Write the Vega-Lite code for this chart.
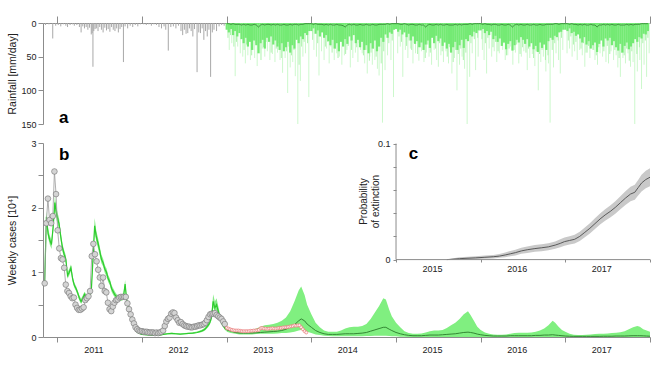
{
"$schema":"https://vega.github.io/schema/vega-lite/v6.json",
"padding":{"left":6,"top":15,"right":0,"bottom":4},
"background":"white",
"config":{"font":"Liberation Sans","view":{"stroke":null},"axis":{"domainColor":"#8c8c8c","tickColor":"#8c8c8c","labelColor":"#222222","titleColor":"#222222","labelFont":"Liberation Sans","titleFont":"Liberation Sans","labelFontSize":9,"titleFontSize":10.5,"titleFontWeight":"normal","grid":false,"labelFlush":false,"labelOverlap":false,"labelBound":false}},
"spacing":19,
"bounds":"flush",
"vconcat":[
{"width":607,"height":101,
"layer":[
{"data":{"name":"rainSpike"},"mark":{"type":"rule","strokeWidth":1,"color":"#ccf8cc"},
"encoding":{"x":{"field":"t","type":"quantitative","scale":{"domain":[2010.83,2018],"nice":false,"zero":false},"title":null,"axis":{"orient":"top","values":[2011,2012,2013,2014,2015,2016,2017,2018],"tickCount":50,"labels":false,"tickSize":7}},
"y":{"field":"mm","type":"quantitative","scale":{"domain":[0,150],"reverse":true,"nice":false},"title":"Rainfall [mm/day]","axis":{"values":[0,50,100,150],"tickCount":50,"format":"d","tickSize":5,"labelPadding":2,"titleX":-26,"titleY":50.5}},
"y2":{"datum":0}}},
{"data":{"name":"rainSpike2"},"mark":{"type":"rule","strokeWidth":1,"color":"#aef2ae"},
"encoding":{"x":{"field":"t","type":"quantitative","scale":{"domain":[2010.83,2018],"nice":false,"zero":false},"title":null},
"y":{"field":"mm","type":"quantitative","scale":{"domain":[0,150],"reverse":true,"nice":false},"title":"Rainfall [mm/day]"},"y2":{"datum":0}}},
{"data":{"name":"rainObs"},"mark":{"type":"rule","strokeWidth":1,"color":"#a8a8a8"},
"encoding":{"x":{"field":"t","type":"quantitative","scale":{"domain":[2010.83,2018],"nice":false,"zero":false},"title":null},
"y":{"field":"mm","type":"quantitative","scale":{"domain":[0,150],"reverse":true,"nice":false},"title":"Rainfall [mm/day]"},"y2":{"datum":0}}},
{"data":{"name":"rainCore"},"mark":{"type":"rule","strokeWidth":2.2,"color":"#74ea74"},
"encoding":{"x":{"field":"t","type":"quantitative","scale":{"domain":[2010.83,2018],"nice":false,"zero":false},"title":null},
"y":{"field":"c","type":"quantitative","scale":{"domain":[0,150],"reverse":true,"nice":false},"title":"Rainfall [mm/day]"},"y2":{"datum":0}}},
{"data":{"name":"rainCore"},"mark":{"type":"line","color":"#2f7f2f","strokeWidth":0.8},
"encoding":{"x":{"field":"t","type":"quantitative","scale":{"domain":[2010.83,2018],"nice":false,"zero":false},"title":null},
"y":{"field":"m","type":"quantitative","scale":{"domain":[0,150],"reverse":true,"nice":false},"title":"Rainfall [mm/day]"}}},
{"data":{"values":[{"t":2011.02,"v":148,"s":"a"}]},"mark":{"type":"text","align":"left","baseline":"alphabetic","fontSize":17,"fontWeight":"bold","color":"#000000"},
"encoding":{"x":{"field":"t","type":"quantitative","scale":{"domain":[2010.83,2018],"nice":false,"zero":false},"title":null},
"y":{"field":"v","type":"quantitative","scale":{"domain":[0,150],"reverse":true,"nice":false},"title":"Rainfall [mm/day]"},"text":{"field":"s"}}}
]},
{"width":607,"height":194,
"layer":[
{"layer":[
{"data":{"name":"fit"},"mark":{"type":"area","color":"#86ec86"},
"encoding":{"x":{"field":"t","type":"quantitative","scale":{"domain":[2010.83,2018],"nice":false,"zero":false},"title":null,"axis":{"values":[2011,2012,2013,2014,2015,2016,2017,2018],"tickCount":50,"labelExpr":"datum.value < 2018 ? format(datum.value, 'd') : ''","labelOffset":36,"tickSize":5,"labelPadding":3}},
"y":{"field":"lo","type":"quantitative","scale":{"domain":[0,3],"nice":false},"title":"Weekly cases [10⁴]","axis":{"values":[0,0.5,1,1.5,2,2.5,3],"tickCount":50,"labelExpr":"datum.value % 1 == 0 ? format(datum.value, 'd') : ''","tickSize":5,"labelPadding":2,"titleX":-26,"titleY":97}},
"y2":{"field":"hi"}}},
{"data":{"name":"fc"},"mark":{"type":"area","color":"#80ef80"},
"encoding":{"x":{"field":"t","type":"quantitative","scale":{"domain":[2010.83,2018],"nice":false,"zero":false},"title":null},
"y":{"field":"lo","type":"quantitative","scale":{"domain":[0,3],"nice":false},"title":"Weekly cases [10⁴]"},"y2":{"field":"hi"}}},
{"data":{"name":"fit"},"mark":{"type":"line","color":"#2ecc2e","strokeWidth":1.2},
"encoding":{"x":{"field":"t","type":"quantitative","scale":{"domain":[2010.83,2018],"nice":false,"zero":false},"title":null},
"y":{"field":"m","type":"quantitative","scale":{"domain":[0,3],"nice":false},"title":"Weekly cases [10⁴]"}}},
{"data":{"name":"fc"},"mark":{"type":"line","color":"#2a7a2a","strokeWidth":0.9},
"encoding":{"x":{"field":"t","type":"quantitative","scale":{"domain":[2010.83,2018],"nice":false,"zero":false},"title":null},
"y":{"field":"m","type":"quantitative","scale":{"domain":[0,3],"nice":false},"title":"Weekly cases [10⁴]"}}},
{"data":{"name":"obs"},"mark":{"type":"line","color":"#9a9a9a","strokeWidth":0.8},
"encoding":{"x":{"field":"t","type":"quantitative","scale":{"domain":[2010.83,2018],"nice":false,"zero":false},"title":null},
"y":{"field":"c","type":"quantitative","scale":{"domain":[0,3],"nice":false},"title":"Weekly cases [10⁴]"}}},
{"data":{"name":"obs"},"mark":{"type":"point","filled":true,"size":32,"fill":"#d4d4d4","stroke":"#707070","strokeWidth":0.6,"opacity":1},
"encoding":{"x":{"field":"t","type":"quantitative","scale":{"domain":[2010.83,2018],"nice":false,"zero":false},"title":null},
"y":{"field":"c","type":"quantitative","scale":{"domain":[0,3],"nice":false},"title":"Weekly cases [10⁴]"}}},
{"data":{"name":"val"},"mark":{"type":"line","color":"#f2a0a0","strokeWidth":0.8},
"encoding":{"x":{"field":"t","type":"quantitative","scale":{"domain":[2010.83,2018],"nice":false,"zero":false},"title":null},
"y":{"field":"c","type":"quantitative","scale":{"domain":[0,3],"nice":false},"title":"Weekly cases [10⁴]"}}},
{"data":{"name":"val"},"mark":{"type":"point","filled":true,"size":9,"fill":"#fff4f4","stroke":"#e87878","strokeWidth":0.7,"opacity":1},
"encoding":{"x":{"field":"t","type":"quantitative","scale":{"domain":[2010.83,2018],"nice":false,"zero":false},"title":null},
"y":{"field":"c","type":"quantitative","scale":{"domain":[0,3],"nice":false},"title":"Weekly cases [10⁴]"}}},
{"data":{"values":[{"t":2011.02,"v":2.74,"s":"b"}]},"mark":{"type":"text","align":"left","baseline":"alphabetic","fontSize":17,"fontWeight":"bold","color":"#000000"},
"encoding":{"x":{"field":"t","type":"quantitative","scale":{"domain":[2010.83,2018],"nice":false,"zero":false},"title":null},
"y":{"field":"v","type":"quantitative","scale":{"domain":[0,3],"nice":false},"title":"Weekly cases [10⁴]"},"text":{"field":"s"}}}
]},
{"layer":[
{"data":{"name":"ext"},"mark":{"type":"area","color":"#c9c9c9"},
"encoding":{"x":{"field":"t","type":"quantitative","scale":{"domain":[2010.83,2018],"nice":false,"zero":false},"title":null,"axis":{"orient":"bottom","offset":-78,"values":[2015,2016,2017,2018],"tickCount":50,"labelExpr":"datum.value < 2018 ? format(datum.value, 'd') : ''","labelOffset":36,"domain":false,"tickSize":3,"labelPadding":2}},
"y":{"field":"lo","type":"quantitative","scale":{"domain":[-0.0667,0.1005],"nice":false,"zero":false},"title":["Probability","of extinction"],"axis":{"orient":"left","offset":-353,"values":[0,0.02,0.04,0.06,0.08,0.1],"tickCount":50,"labelExpr":"datum.value < 0.001 ? '0' : (datum.value > 0.099 ? '0.1' : '')","domain":false,"tickSize":3,"labelPadding":3,"titleX":-28,"titleY":58,"titleFontSize":10}},
"y2":{"field":"hi"}}},
{"data":{"name":"ext"},"mark":{"type":"line","color":"#4d4d4d","strokeWidth":0.9},
"encoding":{"x":{"field":"t","type":"quantitative","scale":{"domain":[2010.83,2018],"nice":false,"zero":false},"title":null},
"y":{"field":"p","type":"quantitative","scale":{"domain":[-0.0667,0.1005],"nice":false,"zero":false},"title":["Probability","of extinction"]}}},
{"data":{"values":[{"t":2015,"t2":2015,"v":0,"v2":0.1},{"t":2015,"t2":2018,"v":0,"v2":0}]},"mark":{"type":"rule","color":"#8c8c8c","strokeWidth":1},
"encoding":{"x":{"field":"t","type":"quantitative","scale":{"domain":[2010.83,2018],"nice":false,"zero":false},"title":null},"x2":{"field":"t2"},
"y":{"field":"v","type":"quantitative","scale":{"domain":[-0.0667,0.1005],"nice":false,"zero":false},"title":["Probability","of extinction"]},"y2":{"field":"v2"}}},
{"data":{"values":[{"t":2015.15,"v":0.0863,"s":"c"}]},"mark":{"type":"text","align":"left","baseline":"alphabetic","fontSize":17,"fontWeight":"bold","color":"#000000"},
"encoding":{"x":{"field":"t","type":"quantitative","scale":{"domain":[2010.83,2018],"nice":false,"zero":false},"title":null},
"y":{"field":"v","type":"quantitative","scale":{"domain":[-0.0667,0.1005],"nice":false,"zero":false},"title":["Probability","of extinction"]},"text":{"field":"s"}}}
]}
],
"resolve":{"scale":{"y":"independent"},"axis":{"y":"independent","x":"independent"}}
}
],
"datasets":{
"rainObs":[{"t":2010.86,"mm":3},{"t":2010.9,"mm":2},{"t":2010.945,"mm":23},{"t":2010.98,"mm":4},{"t":2011.01,"mm":3},{"t":2011.04,"mm":5},{"t":2011.07,"mm":2},{"t":2011.1,"mm":4},{"t":2011.12,"mm":6},{"t":2011.15,"mm":3},{"t":2011.18,"mm":2},{"t":2011.2,"mm":4},{"t":2011.23,"mm":3},{"t":2011.26,"mm":6},{"t":2011.28,"mm":14},{"t":2011.3,"mm":5},{"t":2011.32,"mm":8},{"t":2011.34,"mm":6},{"t":2011.36,"mm":10},{"t":2011.38,"mm":7},{"t":2011.4,"mm":17},{"t":2011.41,"mm":15},{"t":2011.42,"mm":65},{"t":2011.43,"mm":12},{"t":2011.445,"mm":9},{"t":2011.46,"mm":8},{"t":2011.48,"mm":12},{"t":2011.5,"mm":6},{"t":2011.52,"mm":10},{"t":2011.54,"mm":14},{"t":2011.56,"mm":7},{"t":2011.58,"mm":11},{"t":2011.6,"mm":9},{"t":2011.62,"mm":13},{"t":2011.64,"mm":6},{"t":2011.66,"mm":10},{"t":2011.68,"mm":12},{"t":2011.7,"mm":8},{"t":2011.72,"mm":14},{"t":2011.74,"mm":9},{"t":2011.76,"mm":6},{"t":2011.78,"mm":58},{"t":2011.8,"mm":5},{"t":2011.83,"mm":8},{"t":2011.86,"mm":4},{"t":2011.89,"mm":6},{"t":2011.92,"mm":3},{"t":2011.95,"mm":5},{"t":2011.98,"mm":2},{"t":2012.02,"mm":2},{"t":2012.05,"mm":3},{"t":2012.08,"mm":2},{"t":2012.11,"mm":4},{"t":2012.14,"mm":2},{"t":2012.17,"mm":3},{"t":2012.2,"mm":6},{"t":2012.23,"mm":8},{"t":2012.26,"mm":5},{"t":2012.28,"mm":10},{"t":2012.31,"mm":41},{"t":2012.34,"mm":6},{"t":2012.37,"mm":5},{"t":2012.4,"mm":8},{"t":2012.43,"mm":4},{"t":2012.46,"mm":12},{"t":2012.48,"mm":18},{"t":2012.5,"mm":10},{"t":2012.52,"mm":16},{"t":2012.54,"mm":15},{"t":2012.56,"mm":8},{"t":2012.58,"mm":12},{"t":2012.6,"mm":20},{"t":2012.62,"mm":9},{"t":2012.65,"mm":73},{"t":2012.67,"mm":14},{"t":2012.69,"mm":15},{"t":2012.71,"mm":8},{"t":2012.73,"mm":25},{"t":2012.75,"mm":12},{"t":2012.77,"mm":20},{"t":2012.79,"mm":10},{"t":2012.81,"mm":80},{"t":2012.83,"mm":14},{"t":2012.85,"mm":10},{"t":2012.88,"mm":12},{"t":2012.91,"mm":5},{"t":2012.94,"mm":3},{"t":2012.97,"mm":4}],
"rainSpike":[{"t":2013.03,"mm":40},{"t":2013.06,"mm":30},{"t":2013.1,"mm":79},{"t":2013.13,"mm":35},{"t":2013.16,"mm":45},{"t":2013.19,"mm":50},{"t":2013.22,"mm":60},{"t":2013.25,"mm":48},{"t":2013.28,"mm":55},{"t":2013.31,"mm":40},{"t":2013.33,"mm":52},{"t":2013.36,"mm":64},{"t":2013.39,"mm":45},{"t":2013.42,"mm":38},{"t":2013.45,"mm":50},{"t":2013.48,"mm":42},{"t":2013.51,"mm":55},{"t":2013.54,"mm":46},{"t":2013.57,"mm":58},{"t":2013.6,"mm":44},{"t":2013.63,"mm":55},{"t":2013.66,"mm":74},{"t":2013.69,"mm":52},{"t":2013.72,"mm":104},{"t":2013.75,"mm":66},{"t":2013.78,"mm":58},{"t":2013.81,"mm":79},{"t":2013.84,"mm":150},{"t":2013.87,"mm":86},{"t":2013.9,"mm":50},{"t":2013.93,"mm":45},{"t":2013.97,"mm":110},
{"t":2014.03,"mm":40},{"t":2014.06,"mm":50},{"t":2014.09,"mm":78},{"t":2014.12,"mm":42},{"t":2014.15,"mm":55},{"t":2014.18,"mm":38},{"t":2014.21,"mm":60},{"t":2014.23,"mm":35},{"t":2014.27,"mm":55},{"t":2014.3,"mm":45},{"t":2014.33,"mm":50},{"t":2014.36,"mm":62},{"t":2014.39,"mm":48},{"t":2014.42,"mm":40},{"t":2014.46,"mm":66},{"t":2014.49,"mm":52},{"t":2014.52,"mm":44},{"t":2014.55,"mm":58},{"t":2014.58,"mm":40},{"t":2014.6,"mm":45},{"t":2014.63,"mm":60},{"t":2014.66,"mm":75},{"t":2014.69,"mm":50},{"t":2014.72,"mm":62},{"t":2014.75,"mm":55},{"t":2014.78,"mm":68},{"t":2014.8,"mm":78},{"t":2014.84,"mm":148},{"t":2014.87,"mm":70},{"t":2014.9,"mm":48},{"t":2014.94,"mm":55},{"t":2014.97,"mm":110},
{"t":2015.02,"mm":45},{"t":2015.05,"mm":35},{"t":2015.08,"mm":80},{"t":2015.11,"mm":40},{"t":2015.14,"mm":52},{"t":2015.17,"mm":38},{"t":2015.2,"mm":60},{"t":2015.23,"mm":45},{"t":2015.27,"mm":56},{"t":2015.3,"mm":42},{"t":2015.33,"mm":58},{"t":2015.36,"mm":44},{"t":2015.39,"mm":50},{"t":2015.42,"mm":62},{"t":2015.45,"mm":40},{"t":2015.48,"mm":55},{"t":2015.5,"mm":65},{"t":2015.53,"mm":48},{"t":2015.56,"mm":58},{"t":2015.59,"mm":42},{"t":2015.62,"mm":60},{"t":2015.66,"mm":75},{"t":2015.69,"mm":52},{"t":2015.72,"mm":100},{"t":2015.75,"mm":62},{"t":2015.78,"mm":50},{"t":2015.81,"mm":68},{"t":2015.84,"mm":150},{"t":2015.87,"mm":80},{"t":2015.9,"mm":45},{"t":2015.94,"mm":70},{"t":2015.97,"mm":50},
{"t":2016.02,"mm":40},{"t":2016.04,"mm":55},{"t":2016.07,"mm":75},{"t":2016.1,"mm":38},{"t":2016.13,"mm":50},{"t":2016.16,"mm":42},{"t":2016.19,"mm":58},{"t":2016.22,"mm":45},{"t":2016.26,"mm":40},{"t":2016.29,"mm":55},{"t":2016.32,"mm":48},{"t":2016.35,"mm":35},{"t":2016.38,"mm":62},{"t":2016.41,"mm":44},{"t":2016.45,"mm":60},{"t":2016.48,"mm":50},{"t":2016.51,"mm":42},{"t":2016.55,"mm":70},{"t":2016.58,"mm":52},{"t":2016.61,"mm":46},{"t":2016.64,"mm":64},{"t":2016.68,"mm":100},{"t":2016.71,"mm":58},{"t":2016.74,"mm":50},{"t":2016.77,"mm":72},{"t":2016.8,"mm":60},{"t":2016.82,"mm":148},{"t":2016.86,"mm":66},{"t":2016.89,"mm":45},{"t":2016.92,"mm":55},{"t":2016.94,"mm":75},{"t":2016.97,"mm":40},
{"t":2017.02,"mm":45},{"t":2017.05,"mm":38},{"t":2017.08,"mm":50},{"t":2017.11,"mm":42},{"t":2017.14,"mm":55},{"t":2017.17,"mm":40},{"t":2017.2,"mm":48},{"t":2017.23,"mm":65},{"t":2017.26,"mm":44},{"t":2017.29,"mm":52},{"t":2017.32,"mm":40},{"t":2017.35,"mm":55},{"t":2017.38,"mm":62},{"t":2017.41,"mm":45},{"t":2017.44,"mm":50},{"t":2017.48,"mm":58},{"t":2017.51,"mm":60},{"t":2017.54,"mm":42},{"t":2017.57,"mm":55},{"t":2017.6,"mm":48},{"t":2017.62,"mm":66},{"t":2017.65,"mm":80},{"t":2017.68,"mm":52},{"t":2017.71,"mm":60},{"t":2017.74,"mm":45},{"t":2017.77,"mm":65},{"t":2017.8,"mm":58},{"t":2017.82,"mm":150},{"t":2017.85,"mm":72},{"t":2017.88,"mm":55},{"t":2017.9,"mm":98},{"t":2017.93,"mm":62},{"t":2017.96,"mm":80},{"t":2017.99,"mm":45}],
"rainSpike2":[{"t":2013.015,"mm":22},{"t":2013.045,"mm":18},{"t":2013.085,"mm":35},{"t":2013.115,"mm":28},{"t":2013.205,"mm":40},{"t":2013.235,"mm":32},{"t":2013.295,"mm":48},{"t":2013.345,"mm":30},{"t":2013.405,"mm":55},{"t":2013.435,"mm":36},{"t":2013.465,"mm":28},{"t":2013.525,"mm":44},{"t":2013.585,"mm":38},{"t":2013.615,"mm":30},{"t":2013.645,"mm":52},{"t":2013.705,"mm":42},{"t":2013.735,"mm":35},{"t":2013.765,"mm":48},{"t":2013.795,"mm":40},{"t":2013.855,"mm":62},{"t":2013.885,"mm":35},{"t":2013.915,"mm":28},{"t":2013.955,"mm":30},
{"t":2014.015,"mm":25},{"t":2014.075,"mm":30},{"t":2014.105,"mm":20},{"t":2014.165,"mm":35},{"t":2014.195,"mm":28},{"t":2014.245,"mm":44},{"t":2014.285,"mm":38},{"t":2014.315,"mm":52},{"t":2014.375,"mm":30},{"t":2014.405,"mm":46},{"t":2014.435,"mm":34},{"t":2014.475,"mm":40},{"t":2014.535,"mm":36},{"t":2014.565,"mm":30},{"t":2014.615,"mm":48},{"t":2014.645,"mm":40},{"t":2014.685,"mm":56},{"t":2014.705,"mm":44},{"t":2014.735,"mm":38},{"t":2014.765,"mm":50},{"t":2014.825,"mm":60},{"t":2014.855,"mm":42},{"t":2014.915,"mm":30},{"t":2014.955,"mm":26},
{"t":2015.035,"mm":20},{"t":2015.065,"mm":28},{"t":2015.125,"mm":34},{"t":2015.155,"mm":26},{"t":2015.185,"mm":40},{"t":2015.215,"mm":30},{"t":2015.255,"mm":46},{"t":2015.285,"mm":36},{"t":2015.345,"mm":52},{"t":2015.375,"mm":32},{"t":2015.405,"mm":44},{"t":2015.465,"mm":38},{"t":2015.515,"mm":30},{"t":2015.545,"mm":42},{"t":2015.605,"mm":50},{"t":2015.635,"mm":36},{"t":2015.675,"mm":58},{"t":2015.705,"mm":40},{"t":2015.735,"mm":46},{"t":2015.765,"mm":38},{"t":2015.795,"mm":55},{"t":2015.825,"mm":44},{"t":2015.885,"mm":30},{"t":2015.925,"mm":24},{"t":2015.965,"mm":22},
{"t":2016.015,"mm":24},{"t":2016.055,"mm":30},{"t":2016.085,"mm":22},{"t":2016.145,"mm":36},{"t":2016.175,"mm":28},{"t":2016.205,"mm":42},{"t":2016.245,"mm":34},{"t":2016.275,"mm":30},{"t":2016.305,"mm":48},{"t":2016.335,"mm":38},{"t":2016.395,"mm":40},{"t":2016.425,"mm":32},{"t":2016.465,"mm":46},{"t":2016.495,"mm":36},{"t":2016.535,"mm":44},{"t":2016.565,"mm":38},{"t":2016.625,"mm":52},{"t":2016.655,"mm":42},{"t":2016.695,"mm":46},{"t":2016.725,"mm":40},{"t":2016.765,"mm":55},{"t":2016.795,"mm":48},{"t":2016.845,"mm":40},{"t":2016.875,"mm":30},{"t":2016.915,"mm":26},{"t":2016.955,"mm":22},
{"t":2017.035,"mm":26},{"t":2017.065,"mm":20},{"t":2017.095,"mm":32},{"t":2017.125,"mm":28},{"t":2017.185,"mm":38},{"t":2017.215,"mm":30},{"t":2017.245,"mm":44},{"t":2017.275,"mm":34},{"t":2017.335,"mm":40},{"t":2017.365,"mm":48},{"t":2017.395,"mm":36},{"t":2017.455,"mm":42},{"t":2017.495,"mm":34},{"t":2017.525,"mm":46},{"t":2017.585,"mm":40},{"t":2017.635,"mm":52},{"t":2017.665,"mm":44},{"t":2017.695,"mm":48},{"t":2017.725,"mm":38},{"t":2017.755,"mm":56},{"t":2017.785,"mm":42},{"t":2017.845,"mm":46},{"t":2017.875,"mm":36},{"t":2017.915,"mm":30},{"t":2017.945,"mm":26},{"t":2017.975,"mm":22}],
"rainCore":[
{"t":2013,"c":10,"m":1},{"t":2013.025,"c":14,"m":1},{"t":2013.05,"c":9,"m":2},{"t":2013.075,"c":18,"m":1},{"t":2013.1,"c":12,"m":2},{"t":2013.125,"c":20,"m":2},{"t":2013.15,"c":15,"m":2},{"t":2013.175,"c":24,"m":3},{"t":2013.2,"c":30,"m":2},{"t":2013.225,"c":22,"m":3},{"t":2013.25,"c":35,"m":2},{"t":2013.275,"c":28,"m":3},{"t":2013.3,"c":40,"m":3},{"t":2013.325,"c":26,"m":2},{"t":2013.35,"c":33,"m":3},{"t":2013.375,"c":45,"m":6},{"t":2013.4,"c":30,"m":3},{"t":2013.425,"c":25,"m":2},{"t":2013.45,"c":38,"m":3},{"t":2013.475,"c":22,"m":2},{"t":2013.5,"c":28,"m":2},{"t":2013.525,"c":20,"m":3},{"t":2013.55,"c":32,"m":2},{"t":2013.575,"c":26,"m":3},{"t":2013.6,"c":35,"m":2},{"t":2013.625,"c":40,"m":3},{"t":2013.65,"c":30,"m":3},{"t":2013.675,"c":42,"m":2},{"t":2013.7,"c":36,"m":3},{"t":2013.725,"c":28,"m":3},{"t":2013.75,"c":44,"m":2},{"t":2013.775,"c":33,"m":3},{"t":2013.8,"c":38,"m":2},{"t":2013.825,"c":25,"m":2},{"t":2013.85,"c":30,"m":3},{"t":2013.875,"c":20,"m":2},{"t":2013.9,"c":24,"m":2},{"t":2013.925,"c":15,"m":1},{"t":2013.95,"c":18,"m":1},{"t":2013.975,"c":12,"m":1},
{"t":2014,"c":12,"m":1},{"t":2014.025,"c":8,"m":2},{"t":2014.05,"c":16,"m":1},{"t":2014.075,"c":11,"m":2},{"t":2014.1,"c":20,"m":2},{"t":2014.125,"c":14,"m":2},{"t":2014.15,"c":22,"m":3},{"t":2014.175,"c":18,"m":2},{"t":2014.2,"c":27,"m":3},{"t":2014.225,"c":33,"m":2},{"t":2014.25,"c":25,"m":3},{"t":2014.275,"c":38,"m":3},{"t":2014.3,"c":30,"m":2},{"t":2014.325,"c":42,"m":3},{"t":2014.35,"c":28,"m":3},{"t":2014.375,"c":35,"m":4},{"t":2014.4,"c":24,"m":6},{"t":2014.425,"c":31,"m":3},{"t":2014.45,"c":20,"m":2},{"t":2014.475,"c":26,"m":3},{"t":2014.5,"c":18,"m":2},{"t":2014.525,"c":30,"m":3},{"t":2014.55,"c":25,"m":3},{"t":2014.575,"c":36,"m":2},{"t":2014.6,"c":28,"m":3},{"t":2014.625,"c":40,"m":3},{"t":2014.65,"c":33,"m":2},{"t":2014.675,"c":45,"m":3},{"t":2014.7,"c":30,"m":3},{"t":2014.725,"c":38,"m":2},{"t":2014.75,"c":26,"m":3},{"t":2014.775,"c":42,"m":3},{"t":2014.8,"c":35,"m":2},{"t":2014.825,"c":22,"m":2},{"t":2014.85,"c":28,"m":2},{"t":2014.875,"c":17,"m":2},{"t":2014.9,"c":22,"m":1},{"t":2014.925,"c":14,"m":2},{"t":2014.95,"c":16,"m":1},{"t":2014.975,"c":10,"m":1},
{"t":2015,"c":9,"m":1},{"t":2015.025,"c":13,"m":1},{"t":2015.05,"c":10,"m":2},{"t":2015.075,"c":17,"m":2},{"t":2015.1,"c":14,"m":1},{"t":2015.125,"c":21,"m":2},{"t":2015.15,"c":16,"m":3},{"t":2015.175,"c":26,"m":2},{"t":2015.2,"c":20,"m":2},{"t":2015.225,"c":31,"m":3},{"t":2015.25,"c":27,"m":3},{"t":2015.275,"c":36,"m":2},{"t":2015.3,"c":29,"m":3},{"t":2015.325,"c":40,"m":3},{"t":2015.35,"c":32,"m":6},{"t":2015.375,"c":26,"m":3},{"t":2015.4,"c":37,"m":2},{"t":2015.425,"c":22,"m":3},{"t":2015.45,"c":30,"m":3},{"t":2015.475,"c":19,"m":2},{"t":2015.5,"c":27,"m":3},{"t":2015.525,"c":23,"m":2},{"t":2015.55,"c":34,"m":3},{"t":2015.575,"c":29,"m":3},{"t":2015.6,"c":38,"m":2},{"t":2015.625,"c":31,"m":3},{"t":2015.65,"c":44,"m":3},{"t":2015.675,"c":36,"m":3},{"t":2015.7,"c":28,"m":2},{"t":2015.725,"c":40,"m":3},{"t":2015.75,"c":33,"m":2},{"t":2015.775,"c":25,"m":3},{"t":2015.8,"c":37,"m":2},{"t":2015.825,"c":24,"m":2},{"t":2015.85,"c":27,"m":2},{"t":2015.875,"c":18,"m":1},{"t":2015.9,"c":20,"m":2},{"t":2015.925,"c":13,"m":1},{"t":2015.95,"c":15,"m":1},{"t":2015.975,"c":11,"m":1},
{"t":2016,"c":11,"m":1},{"t":2016.025,"c":9,"m":2},{"t":2016.05,"c":15,"m":1},{"t":2016.075,"c":12,"m":2},{"t":2016.1,"c":18,"m":2},{"t":2016.125,"c":13,"m":3},{"t":2016.15,"c":24,"m":2},{"t":2016.175,"c":19,"m":2},{"t":2016.2,"c":28,"m":3},{"t":2016.225,"c":23,"m":3},{"t":2016.25,"c":34,"m":2},{"t":2016.275,"c":29,"m":3},{"t":2016.3,"c":39,"m":3},{"t":2016.325,"c":31,"m":2},{"t":2016.35,"c":27,"m":3},{"t":2016.375,"c":41,"m":6},{"t":2016.4,"c":33,"m":3},{"t":2016.425,"c":25,"m":2},{"t":2016.45,"c":29,"m":3},{"t":2016.475,"c":21,"m":2},{"t":2016.5,"c":25,"m":3},{"t":2016.525,"c":31,"m":3},{"t":2016.55,"c":24,"m":2},{"t":2016.575,"c":35,"m":3},{"t":2016.6,"c":30,"m":3},{"t":2016.625,"c":39,"m":2},{"t":2016.65,"c":34,"m":3},{"t":2016.675,"c":43,"m":3},{"t":2016.7,"c":29,"m":2},{"t":2016.725,"c":37,"m":3},{"t":2016.75,"c":32,"m":3},{"t":2016.775,"c":40,"m":2},{"t":2016.8,"c":27,"m":2},{"t":2016.825,"c":22,"m":2},{"t":2016.85,"c":25,"m":2},{"t":2016.875,"c":19,"m":1},{"t":2016.9,"c":21,"m":1},{"t":2016.925,"c":14,"m":2},{"t":2016.95,"c":13,"m":1},{"t":2016.975,"c":10,"m":1},
{"t":2017,"c":10,"m":1},{"t":2017.025,"c":12,"m":1},{"t":2017.05,"c":8,"m":2},{"t":2017.075,"c":15,"m":1},{"t":2017.1,"c":13,"m":2},{"t":2017.125,"c":19,"m":2},{"t":2017.15,"c":17,"m":3},{"t":2017.175,"c":23,"m":2},{"t":2017.2,"c":29,"m":3},{"t":2017.225,"c":21,"m":2},{"t":2017.25,"c":32,"m":3},{"t":2017.275,"c":27,"m":3},{"t":2017.3,"c":38,"m":2},{"t":2017.325,"c":33,"m":3},{"t":2017.35,"c":29,"m":3},{"t":2017.375,"c":43,"m":6},{"t":2017.4,"c":31,"m":3},{"t":2017.425,"c":26,"m":3},{"t":2017.45,"c":35,"m":2},{"t":2017.475,"c":23,"m":3},{"t":2017.5,"c":26,"m":2},{"t":2017.525,"c":22,"m":3},{"t":2017.55,"c":33,"m":2},{"t":2017.575,"c":27,"m":3},{"t":2017.6,"c":36,"m":3},{"t":2017.625,"c":41,"m":2},{"t":2017.65,"c":31,"m":3},{"t":2017.675,"c":44,"m":3},{"t":2017.7,"c":34,"m":3},{"t":2017.725,"c":29,"m":2},{"t":2017.75,"c":39,"m":3},{"t":2017.775,"c":35,"m":2},{"t":2017.8,"c":30,"m":3},{"t":2017.825,"c":24,"m":2},{"t":2017.85,"c":28,"m":2},{"t":2017.875,"c":21,"m":2},{"t":2017.9,"c":23,"m":1},{"t":2017.925,"c":16,"m":1},{"t":2017.95,"c":17,"m":1},{"t":2017.975,"c":12,"m":1}],
"obs":[{"t":2010.85,"c":0.83},{"t":2010.869,"c":1.76},{"t":2010.888,"c":2.14},{"t":2010.907,"c":1.81},{"t":2010.927,"c":1.76},{"t":2010.946,"c":1.87},{"t":2010.965,"c":2.56},{"t":2010.984,"c":2.21},{"t":2011.003,"c":1.65},{"t":2011.022,"c":1.37},{"t":2011.042,"c":1.22},{"t":2011.061,"c":1.2},{"t":2011.08,"c":1.07},{"t":2011.099,"c":0.81},{"t":2011.118,"c":0.71},{"t":2011.137,"c":0.68},{"t":2011.157,"c":0.63},{"t":2011.176,"c":0.6},{"t":2011.195,"c":0.61},{"t":2011.214,"c":0.5},{"t":2011.233,"c":0.45},{"t":2011.252,"c":0.42},{"t":2011.272,"c":0.42},{"t":2011.291,"c":0.44},{"t":2011.31,"c":0.46},{"t":2011.329,"c":0.57},{"t":2011.348,"c":0.6},{"t":2011.367,"c":0.63},{"t":2011.386,"c":0.71},{"t":2011.406,"c":1.25},{"t":2011.425,"c":1.44},{"t":2011.444,"c":1.28},{"t":2011.463,"c":1.17},{"t":2011.482,"c":1.04},{"t":2011.501,"c":0.92},{"t":2011.521,"c":0.79},{"t":2011.54,"c":0.92},{"t":2011.559,"c":0.71},{"t":2011.578,"c":0.69},{"t":2011.597,"c":0.53},{"t":2011.616,"c":0.43},{"t":2011.636,"c":0.4},{"t":2011.655,"c":0.47},{"t":2011.674,"c":0.53},{"t":2011.693,"c":0.57},{"t":2011.712,"c":0.58},{"t":2011.731,"c":0.61},{"t":2011.75,"c":0.62},{"t":2011.77,"c":0.62},{"t":2011.789,"c":0.62},{"t":2011.808,"c":0.62},{"t":2011.827,"c":0.52},{"t":2011.846,"c":0.43},{"t":2011.865,"c":0.35},{"t":2011.885,"c":0.27},{"t":2011.904,"c":0.21},{"t":2011.923,"c":0.15},{"t":2011.942,"c":0.12},{"t":2011.961,"c":0.1},{"t":2011.98,"c":0.09},{"t":2011.999,"c":0.09},{"t":2012.019,"c":0.08},{"t":2012.038,"c":0.08},{"t":2012.057,"c":0.08},{"t":2012.076,"c":0.07},{"t":2012.095,"c":0.07},{"t":2012.115,"c":0.07},{"t":2012.134,"c":0.07},{"t":2012.153,"c":0.06},{"t":2012.172,"c":0.07},{"t":2012.191,"c":0.06},{"t":2012.21,"c":0.07},{"t":2012.229,"c":0.08},{"t":2012.249,"c":0.1},{"t":2012.268,"c":0.17},{"t":2012.287,"c":0.24},{"t":2012.306,"c":0.28},{"t":2012.325,"c":0.3},{"t":2012.344,"c":0.36},{"t":2012.364,"c":0.38},{"t":2012.383,"c":0.37},{"t":2012.402,"c":0.3},{"t":2012.421,"c":0.26},{"t":2012.44,"c":0.22},{"t":2012.459,"c":0.23},{"t":2012.479,"c":0.2},{"t":2012.498,"c":0.18},{"t":2012.517,"c":0.17},{"t":2012.536,"c":0.16},{"t":2012.555,"c":0.16},{"t":2012.574,"c":0.15},{"t":2012.593,"c":0.15},{"t":2012.613,"c":0.16},{"t":2012.632,"c":0.16},{"t":2012.651,"c":0.17},{"t":2012.67,"c":0.18},{"t":2012.689,"c":0.18},{"t":2012.708,"c":0.19},{"t":2012.728,"c":0.2},{"t":2012.747,"c":0.22},{"t":2012.766,"c":0.26},{"t":2012.785,"c":0.31},{"t":2012.804,"c":0.35},{"t":2012.823,"c":0.36},{"t":2012.843,"c":0.36},{"t":2012.862,"c":0.37},{"t":2012.881,"c":0.34},{"t":2012.9,"c":0.32},{"t":2012.919,"c":0.3},{"t":2012.938,"c":0.28},{"t":2012.958,"c":0.24},{"t":2012.977,"c":0.2}],
"fit":[{"t":2010.85,"m":0.85,"lo":0.8,"hi":0.9},{"t":2010.87,"m":1.86,"lo":1.78,"hi":1.95},{"t":2010.89,"m":1.6,"lo":1.53,"hi":1.68},{"t":2010.91,"m":1.5,"lo":1.43,"hi":1.57},{"t":2010.93,"m":1.43,"lo":1.36,"hi":1.5},{"t":2010.95,"m":1.7,"lo":1.62,"hi":1.78},{"t":2010.97,"m":2.08,"lo":1.98,"hi":2.18},{"t":2010.99,"m":1.9,"lo":1.81,"hi":1.99},{"t":2011.02,"m":1.75,"lo":1.67,"hi":1.83},{"t":2011.04,"m":1.55,"lo":1.48,"hi":1.62},{"t":2011.06,"m":1.38,"lo":1.32,"hi":1.44},{"t":2011.08,"m":1.28,"lo":1.22,"hi":1.34},{"t":2011.1,"m":1.2,"lo":1.14,"hi":1.26},{"t":2011.12,"m":0.95,"lo":0.9,"hi":1},{"t":2011.14,"m":1,"lo":0.95,"hi":1.05},{"t":2011.16,"m":1.07,"lo":1.02,"hi":1.12},{"t":2011.18,"m":0.9,"lo":0.85,"hi":0.95},{"t":2011.2,"m":0.8,"lo":0.76,"hi":0.84},{"t":2011.22,"m":0.75,"lo":0.71,"hi":0.79},{"t":2011.24,"m":0.68,"lo":0.64,"hi":0.72},{"t":2011.26,"m":0.6,"lo":0.56,"hi":0.64},{"t":2011.28,"m":0.55,"lo":0.51,"hi":0.59},{"t":2011.3,"m":0.6,"lo":0.56,"hi":0.64},{"t":2011.32,"m":0.66,"lo":0.62,"hi":0.7},{"t":2011.34,"m":0.62,"lo":0.58,"hi":0.66},{"t":2011.36,"m":0.6,"lo":0.56,"hi":0.64},{"t":2011.38,"m":0.66,"lo":0.62,"hi":0.7},{"t":2011.4,"m":0.7,"lo":0.66,"hi":0.75},{"t":2011.42,"m":1.2,"lo":1.13,"hi":1.28},{"t":2011.44,"m":1.72,"lo":1.62,"hi":1.84},{"t":2011.46,"m":1.55,"lo":1.47,"hi":1.64},{"t":2011.48,"m":1.45,"lo":1.37,"hi":1.53},{"t":2011.5,"m":1.33,"lo":1.26,"hi":1.4},{"t":2011.52,"m":1.2,"lo":1.14,"hi":1.27},{"t":2011.54,"m":1.15,"lo":1.09,"hi":1.21},{"t":2011.56,"m":1.05,"lo":0.99,"hi":1.11},{"t":2011.58,"m":1,"lo":0.94,"hi":1.06},{"t":2011.6,"m":0.9,"lo":0.85,"hi":0.96},{"t":2011.62,"m":0.85,"lo":0.8,"hi":0.9},{"t":2011.64,"m":0.75,"lo":0.7,"hi":0.8},{"t":2011.66,"m":0.7,"lo":0.65,"hi":0.75},{"t":2011.68,"m":0.65,"lo":0.61,"hi":0.7},{"t":2011.7,"m":0.62,"lo":0.58,"hi":0.66},{"t":2011.72,"m":0.6,"lo":0.56,"hi":0.64},{"t":2011.74,"m":0.6,"lo":0.56,"hi":0.64},{"t":2011.76,"m":0.6,"lo":0.56,"hi":0.64},{"t":2011.78,"m":0.62,"lo":0.58,"hi":0.67},{"t":2011.8,"m":0.82,"lo":0.75,"hi":0.88},{"t":2011.82,"m":0.55,"lo":0.51,"hi":0.6},{"t":2011.84,"m":0.45,"lo":0.42,"hi":0.49},{"t":2011.86,"m":0.35,"lo":0.32,"hi":0.38},{"t":2011.88,"m":0.25,"lo":0.23,"hi":0.28},{"t":2011.9,"m":0.17,"lo":0.15,"hi":0.19},{"t":2011.92,"m":0.12,"lo":0.1,"hi":0.14},{"t":2011.94,"m":0.08,"lo":0.07,"hi":0.1},{"t":2011.96,"m":0.06,"lo":0.05,"hi":0.07},{"t":2011.98,"m":0.05,"lo":0.04,"hi":0.06},{"t":2012,"m":0.04,"lo":0.03,"hi":0.05},{"t":2012.05,"m":0.035,"lo":0.025,"hi":0.045},{"t":2012.1,"m":0.03,"lo":0.02,"hi":0.04},{"t":2012.15,"m":0.03,"lo":0.02,"hi":0.04},{"t":2012.2,"m":0.03,"lo":0.02,"hi":0.04},{"t":2012.25,"m":0.04,"lo":0.03,"hi":0.05},{"t":2012.3,"m":0.05,"lo":0.04,"hi":0.06},{"t":2012.35,"m":0.055,"lo":0.045,"hi":0.065},{"t":2012.4,"m":0.05,"lo":0.04,"hi":0.06},{"t":2012.45,"m":0.045,"lo":0.035,"hi":0.055},{"t":2012.5,"m":0.05,"lo":0.04,"hi":0.06},{"t":2012.55,"m":0.055,"lo":0.045,"hi":0.065},{"t":2012.6,"m":0.06,"lo":0.05,"hi":0.075},{"t":2012.65,"m":0.07,"lo":0.06,"hi":0.085},{"t":2012.7,"m":0.09,"lo":0.075,"hi":0.11},{"t":2012.73,"m":0.11,"lo":0.09,"hi":0.13},{"t":2012.75,"m":0.13,"lo":0.11,"hi":0.16},{"t":2012.78,"m":0.18,"lo":0.15,"hi":0.21},{"t":2012.8,"m":0.22,"lo":0.19,"hi":0.26},{"t":2012.82,"m":0.3,"lo":0.26,"hi":0.35},{"t":2012.84,"m":0.55,"lo":0.46,"hi":0.66},{"t":2012.86,"m":0.45,"lo":0.38,"hi":0.55},{"t":2012.88,"m":0.5,"lo":0.42,"hi":0.6},{"t":2012.9,"m":0.4,"lo":0.34,"hi":0.48},{"t":2012.92,"m":0.3,"lo":0.26,"hi":0.36},{"t":2012.94,"m":0.22,"lo":0.19,"hi":0.27},{"t":2012.96,"m":0.17,"lo":0.15,"hi":0.21},{"t":2012.98,"m":0.13,"lo":0.11,"hi":0.16},{"t":2013,"m":0.11,"lo":0.09,"hi":0.13}],
"fc":[{"t":2013,"m":0.11,"lo":0.08,"hi":0.15},{"t":2013.05,"m":0.09,"lo":0.06,"hi":0.13},{"t":2013.1,"m":0.07,"lo":0.05,"hi":0.11},{"t":2013.15,"m":0.06,"lo":0.04,"hi":0.1},{"t":2013.2,"m":0.06,"lo":0.04,"hi":0.1},{"t":2013.25,"m":0.06,"lo":0.04,"hi":0.1},{"t":2013.3,"m":0.06,"lo":0.04,"hi":0.11},{"t":2013.35,"m":0.065,"lo":0.045,"hi":0.13},{"t":2013.4,"m":0.07,"lo":0.05,"hi":0.16},{"t":2013.45,"m":0.075,"lo":0.05,"hi":0.18},{"t":2013.5,"m":0.08,"lo":0.05,"hi":0.19},{"t":2013.55,"m":0.085,"lo":0.05,"hi":0.2},{"t":2013.6,"m":0.09,"lo":0.055,"hi":0.22},{"t":2013.65,"m":0.1,"lo":0.06,"hi":0.25},{"t":2013.7,"m":0.12,"lo":0.06,"hi":0.3},{"t":2013.75,"m":0.15,"lo":0.07,"hi":0.4},{"t":2013.8,"m":0.19,"lo":0.08,"hi":0.55},{"t":2013.85,"m":0.25,"lo":0.1,"hi":0.72},{"t":2013.88,"m":0.28,"lo":0.11,"hi":0.78},{"t":2013.92,"m":0.25,"lo":0.1,"hi":0.65},{"t":2013.95,"m":0.2,"lo":0.08,"hi":0.5},{"t":2014,"m":0.15,"lo":0.06,"hi":0.35},{"t":2014.05,"m":0.1,"lo":0.04,"hi":0.22},{"t":2014.1,"m":0.07,"lo":0.03,"hi":0.15},{"t":2014.15,"m":0.05,"lo":0.02,"hi":0.1},{"t":2014.2,"m":0.04,"lo":0.015,"hi":0.08},{"t":2014.25,"m":0.04,"lo":0.01,"hi":0.08},{"t":2014.3,"m":0.04,"lo":0.01,"hi":0.08},{"t":2014.35,"m":0.045,"lo":0.01,"hi":0.1},{"t":2014.4,"m":0.05,"lo":0.01,"hi":0.13},{"t":2014.45,"m":0.05,"lo":0.01,"hi":0.15},{"t":2014.5,"m":0.05,"lo":0.01,"hi":0.16},{"t":2014.55,"m":0.055,"lo":0.01,"hi":0.16},{"t":2014.6,"m":0.06,"lo":0.01,"hi":0.17},{"t":2014.65,"m":0.07,"lo":0.015,"hi":0.2},{"t":2014.7,"m":0.09,"lo":0.015,"hi":0.28},{"t":2014.75,"m":0.11,"lo":0.02,"hi":0.38},{"t":2014.8,"m":0.13,"lo":0.02,"hi":0.48},{"t":2014.85,"m":0.15,"lo":0.02,"hi":0.6},{"t":2014.88,"m":0.15,"lo":0.02,"hi":0.58},{"t":2014.92,"m":0.12,"lo":0.015,"hi":0.42},{"t":2014.95,"m":0.1,"lo":0.01,"hi":0.32},{"t":2015,"m":0.07,"lo":0.01,"hi":0.22},{"t":2015.05,"m":0.05,"lo":0.005,"hi":0.15},{"t":2015.1,"m":0.035,"lo":0.005,"hi":0.09},{"t":2015.15,"m":0.025,"lo":0,"hi":0.06},{"t":2015.2,"m":0.02,"lo":0,"hi":0.05},{"t":2015.25,"m":0.02,"lo":0,"hi":0.05},{"t":2015.3,"m":0.02,"lo":0,"hi":0.055},{"t":2015.35,"m":0.025,"lo":0,"hi":0.07},{"t":2015.4,"m":0.03,"lo":0,"hi":0.09},{"t":2015.45,"m":0.03,"lo":0,"hi":0.1},{"t":2015.5,"m":0.03,"lo":0,"hi":0.1},{"t":2015.55,"m":0.035,"lo":0,"hi":0.11},{"t":2015.6,"m":0.04,"lo":0,"hi":0.14},{"t":2015.65,"m":0.045,"lo":0,"hi":0.18},{"t":2015.7,"m":0.05,"lo":0,"hi":0.22},{"t":2015.75,"m":0.06,"lo":0,"hi":0.28},{"t":2015.8,"m":0.07,"lo":0,"hi":0.35},{"t":2015.85,"m":0.075,"lo":0,"hi":0.4},{"t":2015.88,"m":0.07,"lo":0,"hi":0.34},{"t":2015.92,"m":0.06,"lo":0,"hi":0.25},{"t":2015.96,"m":0.045,"lo":0,"hi":0.16},{"t":2016,"m":0.035,"lo":0,"hi":0.11},{"t":2016.05,"m":0.025,"lo":0,"hi":0.07},{"t":2016.1,"m":0.02,"lo":0,"hi":0.05},{"t":2016.15,"m":0.015,"lo":0,"hi":0.04},{"t":2016.2,"m":0.015,"lo":0,"hi":0.035},{"t":2016.25,"m":0.015,"lo":0,"hi":0.035},{"t":2016.3,"m":0.015,"lo":0,"hi":0.04},{"t":2016.35,"m":0.02,"lo":0,"hi":0.05},{"t":2016.4,"m":0.02,"lo":0,"hi":0.06},{"t":2016.45,"m":0.02,"lo":0,"hi":0.065},{"t":2016.5,"m":0.02,"lo":0,"hi":0.065},{"t":2016.55,"m":0.02,"lo":0,"hi":0.065},{"t":2016.6,"m":0.02,"lo":0,"hi":0.07},{"t":2016.65,"m":0.025,"lo":0,"hi":0.08},{"t":2016.7,"m":0.025,"lo":0,"hi":0.1},{"t":2016.75,"m":0.03,"lo":0,"hi":0.13},{"t":2016.8,"m":0.03,"lo":0,"hi":0.18},{"t":2016.85,"m":0.035,"lo":0,"hi":0.25},{"t":2016.88,"m":0.03,"lo":0,"hi":0.22},{"t":2016.92,"m":0.025,"lo":0,"hi":0.16},{"t":2016.96,"m":0.02,"lo":0,"hi":0.11},{"t":2017,"m":0.015,"lo":0,"hi":0.08},{"t":2017.05,"m":0.012,"lo":0,"hi":0.05},{"t":2017.1,"m":0.01,"lo":0,"hi":0.035},{"t":2017.15,"m":0.01,"lo":0,"hi":0.03},{"t":2017.2,"m":0.01,"lo":0,"hi":0.03},{"t":2017.25,"m":0.01,"lo":0,"hi":0.035},{"t":2017.3,"m":0.01,"lo":0,"hi":0.04},{"t":2017.35,"m":0.01,"lo":0,"hi":0.045},{"t":2017.4,"m":0.01,"lo":0,"hi":0.05},{"t":2017.45,"m":0.012,"lo":0,"hi":0.05},{"t":2017.5,"m":0.012,"lo":0,"hi":0.055},{"t":2017.55,"m":0.012,"lo":0,"hi":0.06},{"t":2017.6,"m":0.015,"lo":0,"hi":0.065},{"t":2017.65,"m":0.015,"lo":0,"hi":0.075},{"t":2017.7,"m":0.015,"lo":0,"hi":0.09},{"t":2017.75,"m":0.018,"lo":0,"hi":0.12},{"t":2017.8,"m":0.02,"lo":0,"hi":0.15},{"t":2017.85,"m":0.02,"lo":0,"hi":0.17},{"t":2017.88,"m":0.02,"lo":0,"hi":0.16},{"t":2017.92,"m":0.018,"lo":0,"hi":0.12},{"t":2017.96,"m":0.015,"lo":0,"hi":0.1},{"t":2018,"m":0.012,"lo":0,"hi":0.08}],
"val":[{"t":2013,"c":0.14},{"t":2013.02,"c":0.13},{"t":2013.04,"c":0.12},{"t":2013.06,"c":0.11},{"t":2013.08,"c":0.105},{"t":2013.1,"c":0.1},{"t":2013.12,"c":0.1},{"t":2013.14,"c":0.1},{"t":2013.16,"c":0.095},{"t":2013.18,"c":0.09},{"t":2013.2,"c":0.09},{"t":2013.22,"c":0.09},{"t":2013.24,"c":0.09},{"t":2013.26,"c":0.09},{"t":2013.28,"c":0.095},{"t":2013.3,"c":0.095},{"t":2013.32,"c":0.1},{"t":2013.34,"c":0.1},{"t":2013.36,"c":0.105},{"t":2013.38,"c":0.11},{"t":2013.4,"c":0.135},{"t":2013.42,"c":0.14},{"t":2013.44,"c":0.13},{"t":2013.46,"c":0.13},{"t":2013.48,"c":0.125},{"t":2013.5,"c":0.13},{"t":2013.52,"c":0.13},{"t":2013.54,"c":0.135},{"t":2013.56,"c":0.13},{"t":2013.58,"c":0.13},{"t":2013.6,"c":0.135},{"t":2013.62,"c":0.14},{"t":2013.64,"c":0.14},{"t":2013.66,"c":0.145},{"t":2013.68,"c":0.15},{"t":2013.7,"c":0.15},{"t":2013.72,"c":0.155},{"t":2013.74,"c":0.16},{"t":2013.76,"c":0.165},{"t":2013.78,"c":0.17},{"t":2013.8,"c":0.18},{"t":2013.82,"c":0.175},{"t":2013.84,"c":0.18},{"t":2013.86,"c":0.18},{"t":2013.88,"c":0.15},{"t":2013.9,"c":0.12},{"t":2013.92,"c":0.09},{"t":2013.94,"c":0.07}],
"ext":[{"t":2015.6,"p":0,"lo":0,"hi":0},{"t":2015.66,"p":0.0003,"lo":0,"hi":0.001},{"t":2015.75,"p":0.0008,"lo":0,"hi":0.002},{"t":2015.85,"p":0.0012,"lo":0.0002,"hi":0.0025},{"t":2015.94,"p":0.0015,"lo":0.0004,"hi":0.003},{"t":2016.05,"p":0.002,"lo":0.0008,"hi":0.0035},{"t":2016.15,"p":0.0025,"lo":0.001,"hi":0.004},{"t":2016.22,"p":0.003,"lo":0.0015,"hi":0.0048},{"t":2016.29,"p":0.004,"lo":0.002,"hi":0.0062},{"t":2016.35,"p":0.005,"lo":0.003,"hi":0.0075},{"t":2016.41,"p":0.006,"lo":0.0035,"hi":0.0085},{"t":2016.48,"p":0.0075,"lo":0.005,"hi":0.0103},{"t":2016.55,"p":0.0085,"lo":0.0058,"hi":0.0113},{"t":2016.64,"p":0.0095,"lo":0.0067,"hi":0.0125},{"t":2016.72,"p":0.0102,"lo":0.0073,"hi":0.0132},{"t":2016.8,"p":0.011,"lo":0.008,"hi":0.014},{"t":2016.88,"p":0.0125,"lo":0.0093,"hi":0.0157},{"t":2016.94,"p":0.014,"lo":0.0107,"hi":0.0175},{"t":2016.99,"p":0.0155,"lo":0.012,"hi":0.019},{"t":2017.05,"p":0.0165,"lo":0.013,"hi":0.0202},{"t":2017.11,"p":0.0175,"lo":0.0138,"hi":0.0214},{"t":2017.17,"p":0.02,"lo":0.016,"hi":0.024},{"t":2017.23,"p":0.0235,"lo":0.0193,"hi":0.0277},{"t":2017.29,"p":0.027,"lo":0.0226,"hi":0.0314},{"t":2017.35,"p":0.031,"lo":0.0264,"hi":0.0356},{"t":2017.41,"p":0.035,"lo":0.0302,"hi":0.0398},{"t":2017.47,"p":0.0385,"lo":0.0335,"hi":0.0435},{"t":2017.53,"p":0.0415,"lo":0.0363,"hi":0.0467},{"t":2017.59,"p":0.045,"lo":0.0396,"hi":0.0504},{"t":2017.65,"p":0.049,"lo":0.0433,"hi":0.0547},{"t":2017.71,"p":0.053,"lo":0.047,"hi":0.059},{"t":2017.77,"p":0.0565,"lo":0.0502,"hi":0.0628},{"t":2017.82,"p":0.058,"lo":0.0515,"hi":0.0645},{"t":2017.86,"p":0.062,"lo":0.0553,"hi":0.0687},{"t":2017.9,"p":0.066,"lo":0.0588,"hi":0.0732},{"t":2017.95,"p":0.069,"lo":0.0615,"hi":0.0765},{"t":2018,"p":0.071,"lo":0.0632,"hi":0.0788}]
}
}
